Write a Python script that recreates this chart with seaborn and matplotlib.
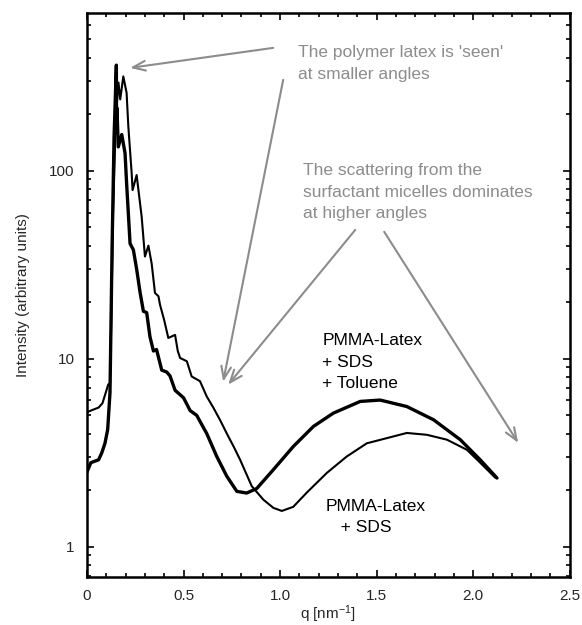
import matplotlib
matplotlib.use("Agg")
import matplotlib.pyplot as plt
import numpy as np
import pandas as pd
import seaborn as sns
from matplotlib.ticker import FixedLocator, LogLocator, MultipleLocator, NullFormatter

# PMMA-Latex + SDS (thin curve)
q_sds = [0.0, 0.02, 0.04, 0.06, 0.08, 0.097, 0.11, 0.119, 0.125, 0.135, 0.15, 0.163,
         0.172, 0.188, 0.205, 0.214, 0.231, 0.236, 0.257, 0.283, 0.30, 0.318, 0.335,
         0.352, 0.37, 0.378, 0.40, 0.421, 0.456, 0.47, 0.482, 0.517, 0.542, 0.585,
         0.62, 0.654, 0.69, 0.724, 0.76, 0.793, 0.853, 0.913, 0.965, 1.009, 1.068,
         1.138, 1.242, 1.345, 1.449, 1.586, 1.656, 1.76, 1.864, 1.967, 2.036, 2.114]
i_sds = [5.2, 5.3, 5.4, 5.5, 5.8, 6.6, 7.3, 7.4, 15, 60, 200, 295,
         240, 318, 260, 172, 98, 79, 95, 57, 35, 40, 32,
         22.4, 21.5, 19.4, 16, 12.9, 13.4, 11, 10.1, 9.7, 8.05, 7.6,
         6.3, 5.5, 4.7, 4.0, 3.4, 2.9, 2.1, 1.78, 1.61, 1.55, 1.63,
         1.94, 2.47, 3.02, 3.55, 3.86, 4.03, 3.94, 3.71, 3.28, 2.8, 2.33]

# PMMA-Latex + SDS + Toluene (thick curve)
q_tol = [0.0, 0.02, 0.04, 0.06, 0.076, 0.093, 0.107, 0.119, 0.13, 0.14, 0.152, 0.153,
         0.155, 0.162, 0.18, 0.197, 0.205, 0.223, 0.24, 0.257, 0.275, 0.292, 0.309,
         0.326, 0.344, 0.36, 0.387, 0.413, 0.43, 0.456, 0.5, 0.534, 0.568, 0.62,
         0.672, 0.724, 0.776, 0.827, 0.879, 0.965, 1.069, 1.173, 1.276, 1.415, 1.518,
         1.656, 1.794, 1.933, 2.036, 2.123]
i_tol = [2.5, 2.8, 2.85, 2.9, 3.15, 3.55, 4.2, 6.6, 40, 150, 365, 160,
         216, 134, 156, 124, 86, 41, 38, 30, 22.5, 17.9, 17.6,
         13.1, 11, 11.2, 8.7, 8.5, 8.1, 6.8, 6.2, 5.3, 5.0, 4.0,
         3.02, 2.37, 1.97, 1.93, 2.04, 2.57, 3.42, 4.37, 5.14, 5.93, 6.03,
         5.57, 4.74, 3.71, 2.9, 2.32]

x_ticks = [0, 0.5, 1.0, 1.5, 2.0, 2.5]
x_tick_labels = ["0", "0.5", "1.0", "1.5", "2.0", "2.5"]
y_ticks = [1, 10, 100]
y_tick_labels = ["1", "10", "100"]

sns.set_style("ticks")
plt.rcParams["font.family"] = ["Liberation Sans", "DejaVu Sans"]
plt.rcParams["mathtext.default"] = "regular"
plt.rcParams["axes.unicode_minus"] = False

fig = plt.figure(figsize=(5.82, 6.25), dpi=100)
ax = fig.add_axes([0.1495, 0.0768, 0.8295, 0.9025])

df_sds = pd.DataFrame({"q": q_sds, "I": i_sds})
df_tol = pd.DataFrame({"q": q_tol, "I": i_tol})

sns.lineplot(data=df_sds, x="q", y="I", sort=False, estimator=None,
             color="black", linewidth=1.5, ax=ax)
sns.lineplot(data=df_tol, x="q", y="I", sort=False, estimator=None,
             color="black", linewidth=2.4, ax=ax)

ax.set_yscale("log")
ax.set_xlim(0, 2.5)
ax.set_ylim(0.69, 692)

ax.xaxis.set_major_locator(FixedLocator(x_ticks))
ax.set_xticklabels(x_tick_labels)
ax.xaxis.set_minor_locator(MultipleLocator(0.1))
ax.yaxis.set_major_locator(FixedLocator(y_ticks))
ax.set_yticklabels(y_tick_labels)
ax.yaxis.set_minor_locator(LogLocator(base=10, subs=np.arange(2, 10)))
ax.yaxis.set_minor_formatter(NullFormatter())

ax.tick_params(which="both", direction="in", top=True, right=True,
               color="black", labelsize=11, width=1.2)
ax.tick_params(which="major", length=5, pad=9)
ax.tick_params(which="minor", length=3)
for spine in ax.spines.values():
    spine.set_linewidth(1.8)
    spine.set_color("black")

ax.set_xlabel("q [nm$^{-1}$]", fontsize=11, labelpad=0)
ax.set_ylabel("Intensity (arbitrary units)", fontsize=11, labelpad=14)

gray = "#8c8c8c"
note_size = 12.5
ax.text(1.093, 373, "The polymer latex is 'seen'\nat smaller angles",
        fontsize=note_size, color=gray, ha="left", va="center", linespacing=1.55)
ax.text(1.119, 77, "The scattering from the\nsurfactant micelles dominates\nat higher angles",
        fontsize=note_size, color=gray, ha="left", va="center", linespacing=1.55)

arrow_kw = dict(arrowstyle="->,head_length=0.9,head_width=0.35", color=gray, lw=1.5,
                shrinkA=0, shrinkB=0)
ax.annotate("", xy=(0.223, 353), xytext=(0.964, 451), arrowprops=arrow_kw)
ax.annotate("", xy=(0.705, 7.55), xytext=(1.016, 305), arrowprops=arrow_kw)
ax.annotate("", xy=(0.731, 7.28), xytext=(1.389, 48.5), arrowprops=arrow_kw)
ax.annotate("", xy=(2.233, 3.57), xytext=(1.539, 47.4), arrowprops=arrow_kw)

ax.text(1.218, 9.6, "PMMA-Latex\n+ SDS\n+ Toluene", fontsize=note_size, color="black",
        ha="left", va="center", linespacing=1.55)
ax.text(1.238, 1.44, "PMMA-Latex\n   + SDS", fontsize=note_size, color="black",
        ha="left", va="center", linespacing=1.55)

fig.savefig("out.png", dpi=100)
